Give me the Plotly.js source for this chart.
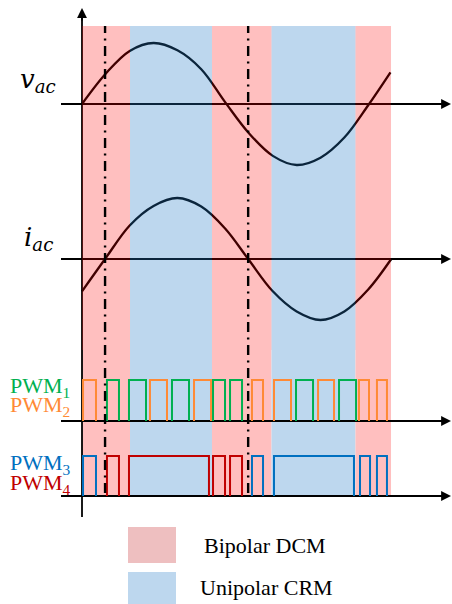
<!DOCTYPE html>
<html><head><meta charset="utf-8">
<script src="https://cdn.plot.ly/plotly-3.0.1.min.js"></script>
<style>html,body{margin:0;padding:0;background:#fff}</style>
</head><body><div id="chart" style="width:452px;height:604px"></div>
<script>
// x values: phase angle in degrees
const vacTheta = [0,30,60,90,120,150,180,210,240,270,300,330,360,388];
const vacValue = [0,0.5,0.87,1.0,0.88,0.57,0.03,-0.48,-0.85,-1.0,-0.88,-0.55,-0.02,0.52];
const iacTheta = [0,29,60,90,120,150,180,209,240,270,300,330,360,389];
const iacValue = [-0.53,0,0.55,0.87,1.0,0.86,0.5,0,-0.53,-0.86,-1.0,-0.86,-0.5,0];

const modeNames = ['Bipolar DCM','Unipolar CRM'];
const regionStart = [0,60.4,163.5,238.4,344.0];
const regionEnd   = [60.4,163.5,238.4,344.0,388.7];
const regionMode  = [0,1,0,1,0];
const markerTheta = [29,209];

const pwmLabels = ['PWM<sub>1</sub>','PWM<sub>2</sub>','PWM<sub>3</sub>','PWM<sub>4</sub>'];
const pwm1Start = [31.4,59.1,113.2,164.8,186.2,269.2,323.3];
const pwm1End   = [46.5,80.5,134.6,179.9,201.3,290.6,344.7];
const pwm2Start = [1.3,85.5,140.9,213.8,241.5,296.9,348.4,371.0];
const pwm2End   = [17.6,106.9,162.3,227.7,262.9,317.0,361.0,383.6];
const pwm3Start = [1.3,213.8,241.5,349.7,371.0];
const pwm3End   = [17.6,227.7,342.1,362.3,383.6];
const pwm4Start = [31.4,59.1,164.8,186.2];
const pwm4End   = [46.5,159.7,179.9,201.3];

const W = 452, H = 604, K = 0.795, X0 = 82;
const P = py => 1 - py / H;
const XP = px => px / W;
const SERIF = 'Liberation Serif, Times New Roman, serif';

const pwmColors = ['#00B050','#FF8A35','#0070C0','#C00000'];
const modeSolid = ['#FFBFBF','#BDD7EE'];
const modeOverlay = ['rgba(255,0,0,0.25)','rgba(35,122,198,0.3)'];
const legendFill = ['#EEBFC0','#BDD7EE'];

function pulses(starts, ends){
  const x=[], y=[];
  for(let i=0;i<starts.length;i++){
    x.push(starts[i],starts[i],ends[i],ends[i],null);
    y.push(0,1,1,0,null);
  }
  return {x,y};
}

const traces = [
  {x:vacTheta,y:vacValue,type:'scatter',mode:'lines',line:{color:'#000',width:2.3,shape:'spline',smoothing:1},yaxis:'y',hoverinfo:'skip'},
  {x:iacTheta,y:iacValue,type:'scatter',mode:'lines',line:{color:'#000',width:2.3,shape:'spline',smoothing:1},yaxis:'y2',hoverinfo:'skip'}
];
const pw = [[pwm2Start,pwm2End,1,'y3'],[pwm1Start,pwm1End,0,'y3'],[pwm3Start,pwm3End,2,'y4'],[pwm4Start,pwm4End,3,'y4']];
pw.forEach(([s,e,c,ya])=>{
  const d = pulses(s,e);
  traces.push({x:d.x,y:d.y,type:'scatter',mode:'lines',line:{color:pwmColors[c],width:2},yaxis:ya,hoverinfo:'skip',connectgaps:false});
});

const shapes = [];
regionStart.forEach((s,i)=>{
  shapes.push({type:'rect',layer:'below',xref:'x',yref:'paper',x0:s,x1:regionEnd[i],y0:P(497),y1:P(350),fillcolor:modeSolid[regionMode[i]],line:{width:0}});
});
['y','y2','y3','y4'].forEach(ya=>{
  shapes.push({type:'line',layer:'below',xref:'paper',yref:ya,x0:XP(61),x1:XP(446),y0:0,y1:0,line:{color:'#000',width:1.8}});
});
shapes.push({type:'line',layer:'below',xref:'x',yref:'paper',x0:0,x1:0,y0:P(517),y1:P(14),line:{color:'#000',width:1.8}});
regionStart.forEach((s,i)=>{
  shapes.push({type:'rect',layer:'above',xref:'x',yref:'paper',x0:s,x1:regionEnd[i],y0:P(350),y1:P(26),fillcolor:modeOverlay[regionMode[i]],line:{width:0}});
});
markerTheta.forEach(t=>{
  shapes.push({type:'line',layer:'above',xref:'x',yref:'paper',x0:t,x1:t,y0:P(493),y1:P(26),line:{color:'#000',width:2.4,dash:'10px,5.5px,2px,5.5px'}});
});
shapes.push({type:'rect',xref:'paper',yref:'paper',x0:XP(128),x1:XP(176),y0:P(563),y1:P(527),fillcolor:legendFill[0],line:{width:0}});
shapes.push({type:'rect',xref:'paper',yref:'paper',x0:XP(128),x1:XP(176),y0:P(604),y1:P(572),fillcolor:legendFill[1],line:{width:0}});

const annotations = [];
const arrowBase = {text:'',showarrow:true,arrowhead:2,arrowsize:1.1,arrowwidth:1.8,arrowcolor:'#000',standoff:0};
annotations.push(Object.assign({},arrowBase,{xref:'x',yref:'paper',x:0,y:P(8),axref:'pixel',ayref:'pixel',ax:0,ay:14}));
['y','y2','y3','y4'].forEach(ya=>{
  annotations.push(Object.assign({},arrowBase,{xref:'paper',yref:ya,x:XP(452),y:0,axref:'pixel',ayref:'pixel',ax:-14,ay:0}));
});
annotations.push({xref:'paper',yref:'paper',x:XP(18),y:P(80),xanchor:'left',yanchor:'middle',showarrow:false,
  text:'<i>v</i><sub><i>ac</i></sub>',font:{family:'DejaVu Serif',size:26,color:'#000'}});
annotations.push({xref:'paper',yref:'paper',x:XP(22),y:P(238),xanchor:'left',yanchor:'middle',showarrow:false,
  text:'<i>i</i><sub><i>ac</i></sub>',font:{family:'DejaVu Serif',size:26,color:'#000'}});
const pwmY = [387,406,464,484];
pwmLabels.forEach((t,i)=>{
  annotations.push({xref:'paper',yref:'paper',x:XP(8),y:P(pwmY[i]),xanchor:'left',yanchor:'middle',showarrow:false,
    text:t,font:{family:SERIF,size:22,color:pwmColors[i]}});
});
annotations.push({xref:'paper',yref:'paper',x:XP(202),y:P(545),xanchor:'left',yanchor:'middle',showarrow:false,
  text:modeNames[0],font:{family:SERIF,size:22,color:'#000'}});
annotations.push({xref:'paper',yref:'paper',x:XP(198),y:P(587),xanchor:'left',yanchor:'middle',showarrow:false,
  text:modeNames[1],font:{family:SERIF,size:22,color:'#000'}});

const ax = {visible:false,fixedrange:true,showgrid:false,zeroline:false};
const layout = {
  width:W,height:H,margin:{l:0,r:0,t:0,b:0,pad:0},
  paper_bgcolor:'#fff',plot_bgcolor:'rgba(0,0,0,0)',showlegend:false,
  xaxis:Object.assign({range:[-X0/K,(W-X0)/K]},ax),
  yaxis:Object.assign({domain:[P(188),P(20)],range:[-1.377,1.377]},ax),
  yaxis2:Object.assign({domain:[P(343),P(175)],range:[-1.377,1.377],anchor:'x'},ax),
  yaxis3:Object.assign({domain:[P(440),P(360)],range:[-(440-421)/41,(421-360)/41],anchor:'x'},ax),
  yaxis4:Object.assign({domain:[P(520),P(445)],range:[-(520-496)/40,(496-445)/40],anchor:'x'},ax),
  shapes:shapes,annotations:annotations
};
Plotly.newPlot('chart',traces,layout,{staticPlot:true,displayModeBar:false});
</script></body></html>
